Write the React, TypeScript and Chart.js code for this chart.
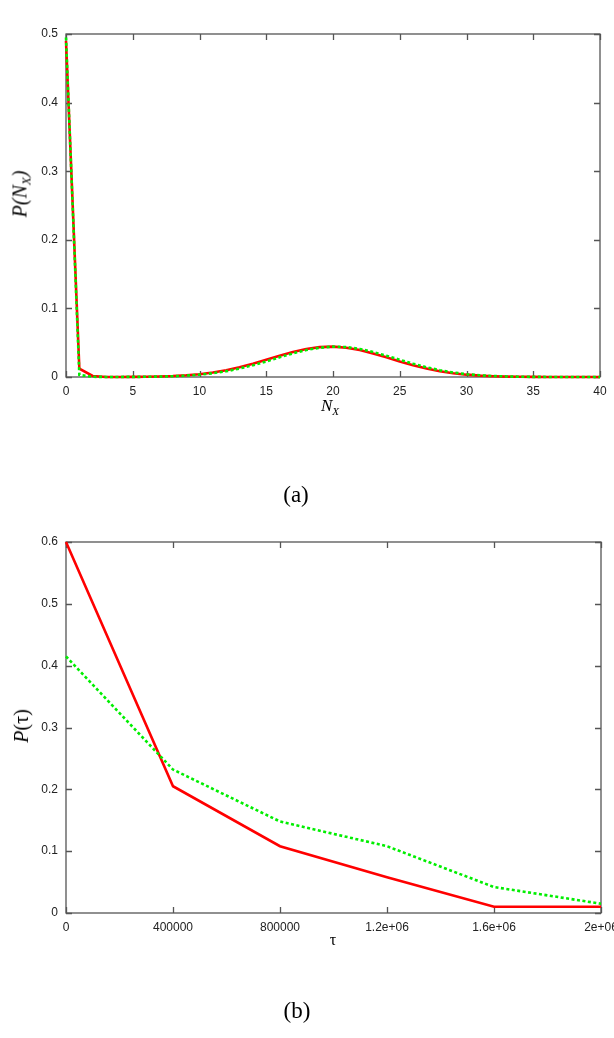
import React, { useEffect, useRef } from "react";
import { Chart, registerables } from "chart.js";

Chart.register(...registerables);

// ---------- Data (a) ----------
const nxValues = [
  0, 1, 2, 3, 4, 5, 6, 7, 8, 9, 10, 11, 12, 13, 14, 15, 16, 17, 18, 19, 20,
  21, 22, 23, 24, 25, 26, 27, 28, 29, 30, 31, 32, 33, 34, 35, 36, 37, 38, 39, 40,
];
const probRedA = [
  0.49, 0.012, 0.0015, 0.0001, 0.0001, 0.0002, 0.0004, 0.0008, 0.0014, 0.0025,
  0.0041, 0.0066, 0.0099, 0.0142, 0.0193, 0.0251, 0.031, 0.0365, 0.0409, 0.0436,
  0.0443, 0.0427, 0.0393, 0.0344, 0.0287, 0.0227, 0.0172, 0.0123, 0.0084, 0.0055,
  0.0034, 0.002, 0.0011, 0.0006, 0.0003, 0.00015, 0.00007, 0.00003, 0.00001, 0, 0,
];
const probGreenA = [
  0.495, 0.003, 0.0003, 0.0001, 0.0001, 0.00015, 0.0003, 0.0006, 0.0011, 0.002,
  0.0034, 0.0055, 0.0084, 0.0123, 0.0172, 0.0227, 0.0287, 0.0344, 0.0393, 0.0427,
  0.0443, 0.0436, 0.0409, 0.0365, 0.031, 0.0251, 0.0193, 0.0142, 0.0099, 0.0066,
  0.0041, 0.0025, 0.0014, 0.0008, 0.0004, 0.0002, 0.0001, 0.00005, 0.00002, 0.00001, 0,
];
const xTicksA = [0, 5, 10, 15, 20, 25, 30, 35, 40];
const yTicksA = [0, 0.1, 0.2, 0.3, 0.4, 0.5];

// ---------- Data (b) ----------
const tauValues = [0, 400000, 800000, 1200000, 1600000, 2000000];
const probRedB = [0.6, 0.205, 0.108, 0.058, 0.01, 0.01];
const probGreenB = [0.415, 0.232, 0.148, 0.108, 0.042, 0.015];
const xTickLabelsB = ["0", "400000", "800000", "1.2e+06", "1.6e+06", "2e+06"];
const yTicksB = [0, 0.1, 0.2, 0.3, 0.4, 0.5, 0.6];

const RED = "#ff0000";
const GREEN = "#00ee00";
const FRAME = "#555555";

const framePlugin = {
  id: "gnuFrame",
  beforeDatasetsDraw(chart: any, _args: any, opts: any) {
    const { ctx, chartArea } = chart;
    const { left, right, top, bottom } = chartArea;
    const xs = chart.scales.x;
    const ys = chart.scales.y;
    const len = 6;
    ctx.save();
    ctx.strokeStyle = FRAME;
    ctx.lineWidth = 1.3;
    ctx.strokeRect(left, top, right - left, bottom - top);
    ctx.beginPath();
    (opts.xTicks as number[]).forEach((v) => {
      const px = Math.round(xs.getPixelForValue(v)) + 0.5;
      ctx.moveTo(px, bottom);
      ctx.lineTo(px, bottom - len);
      ctx.moveTo(px, top);
      ctx.lineTo(px, top + len);
    });
    (opts.yTicks as number[]).forEach((v) => {
      const py = Math.round(ys.getPixelForValue(v)) + 0.5;
      ctx.moveTo(left, py);
      ctx.lineTo(left + len, py);
      ctx.moveTo(right, py);
      ctx.lineTo(right - len, py);
    });
    ctx.stroke();
    ctx.restore();
  },
};

function makeConfig(
  xs: number[],
  red: number[],
  green: number[],
  xMin: number,
  xMax: number,
  xStep: number,
  yMax: number,
  xTicks: number[],
  yTicks: number[],
  padding: any,
  xLabelFn: (v: number, i: number) => string
): any {
  const tickFont = { family: "'Liberation Sans', Arial, sans-serif", size: 12 };
  return {
    type: "line",
    data: {
      datasets: [
        {
          label: "green",
          data: xs.map((x, i) => ({ x, y: green[i] })),
          borderColor: GREEN,
          borderWidth: 2.6,
          borderDash: [3, 2.5],
          pointRadius: 0,
          tension: 0,
          fill: false,
          clip: false,
        },
        {
          label: "red",
          data: xs.map((x, i) => ({ x, y: red[i] })),
          borderColor: RED,
          borderWidth: 2.6,
          pointRadius: 0,
          tension: 0,
          fill: false,
          clip: false,
        },
      ],
    },
    options: {
      animation: false,
      responsive: false,
      maintainAspectRatio: false,
      layout: { padding },
      plugins: {
        legend: { display: false },
        tooltip: { enabled: false },
        gnuFrame: { xTicks, yTicks },
      },
      scales: {
        x: {
          type: "linear",
          min: xMin,
          max: xMax,
          grid: { display: false, drawTicks: false },
          border: { display: false },
          afterFit: (s: any) => {
            s.height = 30;
          },
          afterBuildTicks: (s: any) => {
            s.ticks = xTicks.map((v) => ({ value: v }));
          },
          ticks: {
            stepSize: xStep,
            padding: 7,
            color: "#222",
            font: tickFont,
            maxRotation: 0,
            autoSkip: false,
            callback: (v: number, i: number) => xLabelFn(v, i),
          },
        },
        y: {
          type: "linear",
          min: 0,
          max: yMax,
          grid: { display: false, drawTicks: false },
          border: { display: false },
          afterFit: (s: any) => {
            s.width = 66;
          },
          afterBuildTicks: (s: any) => {
            s.ticks = yTicks.map((v) => ({ value: v }));
          },
          ticks: {
            padding: 8,
            color: "#222",
            font: tickFont,
            callback: (v: number) => String(Math.round(v * 10) / 10),
          },
        },
      },
    },
    plugins: [framePlugin],
  };
}

function ChartCanvas(props: { config: any; width: number; height: number; style: any }) {
  const ref = useRef<HTMLCanvasElement | null>(null);
  useEffect(() => {
    if (!ref.current) return;
    const chart = new Chart(ref.current, props.config);
    return () => chart.destroy();
  }, []);
  return (
    <canvas
      ref={ref}
      width={props.width}
      height={props.height}
      style={{ position: "absolute", width: props.width, height: props.height, ...props.style }}
    />
  );
}

const serif = "'Liberation Serif', 'Times New Roman', serif";

export default function App() {
  const configA = makeConfig(
    nxValues, probRedA, probGreenA, 0, 40, 5, 0.5, xTicksA, yTicksA,
    { top: 34, left: 0, right: 14, bottom: 440 - 377 - 30 },
    (v) => String(v)
  );
  const configB = makeConfig(
    tauValues, probRedB, probGreenB, 0, 2000000, 400000, 0.6, tauValues, yTicksB,
    { top: 22, left: 0, right: 640 - 601, bottom: 440 - 393 - 30 },
    (_v, i) => xTickLabelsB[i]
  );
  return (
    <div
      style={{
        position: "absolute",
        left: 0,
        top: 0,
        width: 614,
        height: 1038,
        overflow: "hidden",
        background: "#fff",
      }}
    >
      <ChartCanvas config={configA} width={614} height={440} style={{ left: 0, top: 0 }} />
      <ChartCanvas config={configB} width={640} height={440} style={{ left: 0, top: 520 }} />

      {/* axis titles (a) */}
      <div
        style={{
          position: "absolute", left: 21, top: 194, transform: "translate(-50%,-50%) rotate(-90deg)",
          fontFamily: serif, fontStyle: "italic", fontSize: 20, whiteSpace: "nowrap", lineHeight: 1,
        }}
      >
        P(N<sub style={{ fontSize: 13, verticalAlign: "-4px" }}>X</sub>)
      </div>
      <div
        style={{
          position: "absolute", left: 330, top: 407, transform: "translate(-50%,-50%)",
          fontFamily: serif, fontStyle: "italic", fontSize: 17, whiteSpace: "nowrap", lineHeight: 1,
        }}
      >
        N<sub style={{ fontSize: 11, verticalAlign: "-4px" }}>X</sub>
      </div>
      <div
        style={{
          position: "absolute", left: 296, top: 494, transform: "translate(-50%,-50%)",
          fontFamily: serif, fontSize: 23, whiteSpace: "nowrap", lineHeight: 1,
        }}
      >
        (a)
      </div>

      {/* axis titles (b) */}
      <div
        style={{
          position: "absolute", left: 21, top: 726, transform: "translate(-50%,-50%) rotate(-90deg)",
          fontFamily: serif, fontSize: 20, whiteSpace: "nowrap", lineHeight: 1,
        }}
      >
        <i>P</i>(τ)
      </div>
      <div
        style={{
          position: "absolute", left: 333, top: 940, transform: "translate(-50%,-50%)",
          fontFamily: serif, fontSize: 16, whiteSpace: "nowrap", lineHeight: 1,
        }}
      >
        τ
      </div>
      <div
        style={{
          position: "absolute", left: 297, top: 1010, transform: "translate(-50%,-50%)",
          fontFamily: serif, fontSize: 23, whiteSpace: "nowrap", lineHeight: 1,
        }}
      >
        (b)
      </div>
    </div>
  );
}
